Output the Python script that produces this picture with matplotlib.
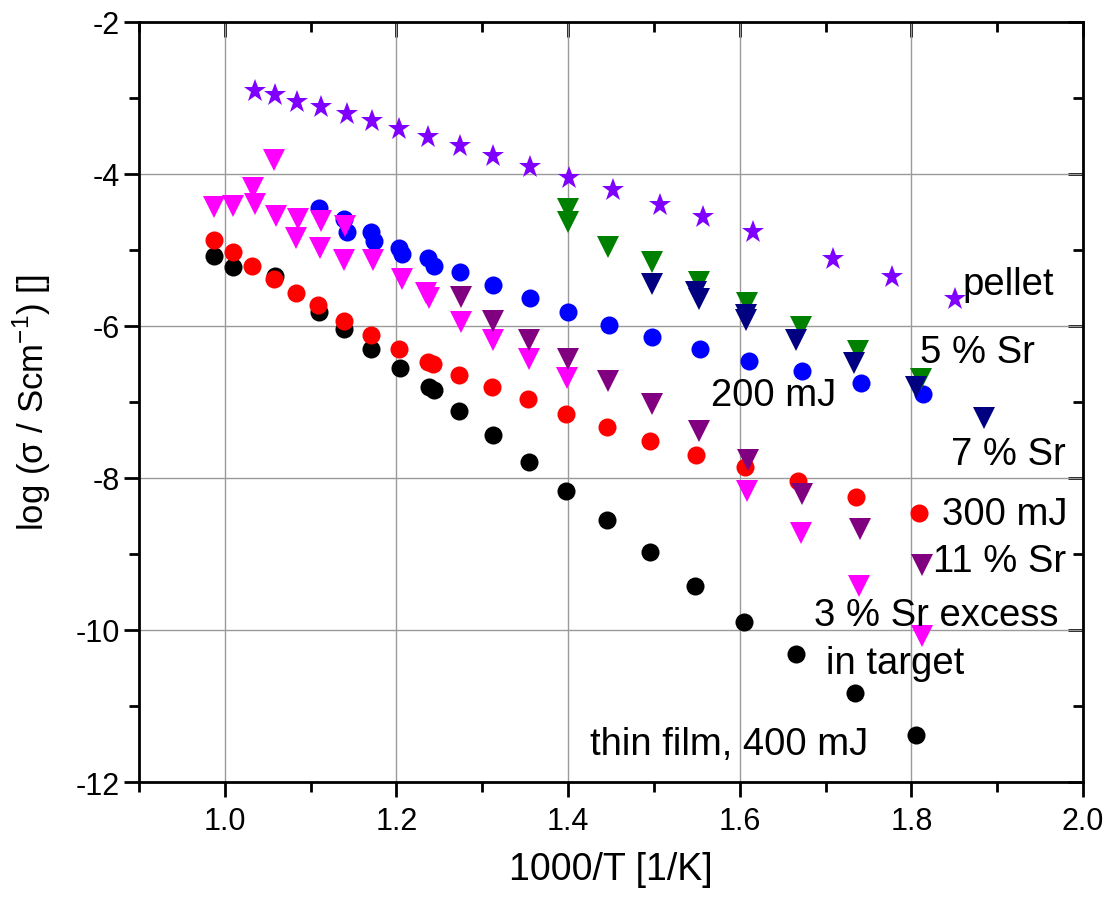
import matplotlib
matplotlib.use("Agg")
import matplotlib.pyplot as plt
from matplotlib.ticker import MultipleLocator

plt.rcParams['font.family'] = ['Liberation Sans', 'DejaVu Sans']
plt.rcParams['mathtext.fontset'] = 'custom'
plt.rcParams['mathtext.rm'] = 'Liberation Sans'

# Arrhenius data: x = 1000/T [1/K], y = log(sigma / S cm^-1)
pellet_x = [1.035, 1.058, 1.084, 1.112, 1.142, 1.171, 1.203, 1.237, 1.274, 1.313,
            1.356, 1.401, 1.452, 1.507, 1.557, 1.615, 1.709, 1.778, 1.851]
pellet_y = [-2.91, -2.97, -3.05, -3.12, -3.21, -3.31, -3.41, -3.52, -3.63, -3.76,
            -3.91, -4.05, -4.22, -4.41, -4.57, -4.77, -5.12, -5.36, -5.65]

sr5_x = [1.400, 1.400, 1.447, 1.498, 1.552, 1.608, 1.671, 1.738, 1.811]
sr5_y = [-4.46, -4.63, -4.96, -5.16, -5.43, -5.70, -6.02, -6.33, -6.70]

sr7_x = [1.498, 1.549, 1.552, 1.607, 1.607, 1.666, 1.733, 1.805, 1.885]
sr7_y = [-5.45, -5.56, -5.65, -5.86, -5.92, -6.18, -6.49, -6.81, -7.21]

mj200_x = [1.110, 1.139, 1.142, 1.170, 1.174, 1.203, 1.207, 1.237, 1.244, 1.274,
           1.313, 1.356, 1.400, 1.448, 1.498, 1.554, 1.611, 1.673, 1.741, 1.813]
mj200_y = [-4.45, -4.60, -4.77, -4.77, -4.89, -4.97, -5.06, -5.11, -5.21, -5.29,
           -5.46, -5.64, -5.82, -5.99, -6.15, -6.30, -6.46, -6.60, -6.75, -6.90]

sr3ex_x = [0.987, 1.010, 1.033, 1.035, 1.057, 1.060, 1.085, 1.083, 1.112, 1.111,
           1.140, 1.139, 1.173, 1.206, 1.234, 1.238, 1.275, 1.313, 1.354, 1.399,
           1.609, 1.671, 1.739, 1.812]
sr3ex_y = [-4.44, -4.42, -4.19, -4.40, -3.82, -4.56, -4.60, -4.84, -4.62, -4.98,
           -4.69, -5.14, -5.14, -5.38, -5.57, -5.63, -5.95, -6.18, -6.43, -6.69,
           -8.17, -8.73, -9.42, -10.08]

sr11_x = [1.275, 1.313, 1.354, 1.400, 1.447, 1.498, 1.552, 1.610, 1.672, 1.740, 1.812]
sr11_y = [-5.62, -5.93, -6.19, -6.44, -6.72, -7.03, -7.38, -7.77, -8.21, -8.67, -9.15]

mj300_x = [0.987, 1.009, 1.032, 1.057, 1.083, 1.109, 1.139, 1.170, 1.203, 1.237,
           1.243, 1.273, 1.311, 1.353, 1.397, 1.445, 1.496, 1.549, 1.606, 1.668,
           1.736, 1.809]
mj300_y = [-4.87, -5.03, -5.21, -5.39, -5.57, -5.73, -5.93, -6.12, -6.31, -6.47,
           -6.50, -6.65, -6.81, -6.96, -7.16, -7.33, -7.51, -7.70, -7.86, -8.04,
           -8.25, -8.46]

film400_x = [0.987, 1.009, 1.059, 1.110, 1.139, 1.170, 1.204, 1.238, 1.244, 1.273,
             1.312, 1.354, 1.397, 1.445, 1.496, 1.548, 1.605, 1.666, 1.734, 1.805]
film400_y = [-5.08, -5.23, -5.34, -5.82, -6.04, -6.30, -6.56, -6.81, -6.85, -7.12,
             -7.44, -7.79, -8.17, -8.55, -8.97, -9.42, -9.89, -10.32, -10.83, -11.38]

x_ticks = [1.0, 1.2, 1.4, 1.6, 1.8, 2.0]
x_ticklabels = ['1.0', '1.2', '1.4', '1.6', '1.8', '2.0']
y_ticks = [-12, -10, -8, -6, -4, -2]
y_ticklabels = ['-12', '-10', '-8', '-6', '-4', '-2']

fig = plt.figure(figsize=(11.11, 9.04), dpi=100)
ax = fig.add_axes([0.1251, 0.1338, 0.8497, 0.8411])

ax.set_xlim(0.9, 2.0)
ax.set_ylim(-12, -2)

ax.grid(True, which='major', color='#9a9a9a', linewidth=1.0, zorder=0)
ax.set_axisbelow(True)

circ = dict(marker='o', markersize=13, linestyle='none', markeredgewidth=0)
tri = dict(marker='v', markersize=15.5, linestyle='none', markeredgewidth=0)

ax.plot(film400_x, film400_y, color='black', **circ, zorder=3)
ax.plot(mj300_x, mj300_y, color='#ff0000', **circ, zorder=3)
ax.plot(mj200_x, mj200_y, color='#0000ff', **circ, zorder=3)
ax.plot(sr3ex_x, sr3ex_y, color='#ff00ff', **tri, zorder=4)
ax.plot(sr11_x, sr11_y, color='#800080', **tri, zorder=4)
ax.plot(sr5_x, sr5_y, color='#008000', **tri, zorder=4)
ax.plot(sr7_x, sr7_y, color='#000080', **tri, zorder=4)
ax.plot(pellet_x, pellet_y, color='#8000ff', marker='*', markersize=17,
        linestyle='none', markeredgewidth=0, zorder=5)

label_fs = 27.5
labels = [
    (1.860, -5.58, "pellet"),
    (1.810, -6.48, "5 % Sr"),
    (1.566, -7.04, "200 mJ"),
    (1.846, -7.82, "7 % Sr"),
    (1.836, -8.61, "300 mJ"),
    (1.825, -9.22, "11 % Sr"),
    (1.687, -9.94, "3 % Sr excess"),
    (1.700, -10.57, "in target"),
    (1.426, -11.635, "thin film, 400 mJ"),
]
for lx, ly, txt in labels:
    ax.text(lx, ly, txt, fontsize=label_fs, ha='left', va='baseline', zorder=6)

ax.xaxis.set_minor_locator(MultipleLocator(0.1))
ax.yaxis.set_minor_locator(MultipleLocator(1))
ax.set_xticks(x_ticks)
ax.set_xticklabels(x_ticklabels)
ax.set_yticks(y_ticks)
ax.set_yticklabels(y_ticklabels)

ax.tick_params(which='both', direction='out', top=False, right=False,
               labelsize=22, width=2)
ax.tick_params(which='major', length=11)
ax.tick_params(which='minor', length=7)
ax.tick_params(axis='x', pad=6)
ax.tick_params(axis='y', pad=3)

# inward ticks on the top and right frame
secx = ax.secondary_xaxis('top')
secx.xaxis.set_major_locator(MultipleLocator(0.2))
secx.xaxis.set_minor_locator(MultipleLocator(0.1))
secx.tick_params(which='both', direction='in', width=2, labeltop=False)
secx.tick_params(which='major', length=11)
secx.tick_params(which='minor', length=7)
secx.spines['top'].set_visible(False)

secy = ax.secondary_yaxis('right')
secy.yaxis.set_major_locator(MultipleLocator(2))
secy.yaxis.set_minor_locator(MultipleLocator(1))
secy.tick_params(which='both', direction='in', width=2, labelright=False)
secy.tick_params(which='major', length=11)
secy.tick_params(which='minor', length=7)
secy.spines['right'].set_visible(False)

for sp in ax.spines.values():
    sp.set_linewidth(2)

ax.set_xlabel('1000/T [1/K]', fontsize=27, labelpad=11)
ax.set_ylabel(r'log (σ / Scm$^{\mathregular{-1}}$) []', fontsize=25, labelpad=16)

fig.savefig('out.png', dpi=100)
